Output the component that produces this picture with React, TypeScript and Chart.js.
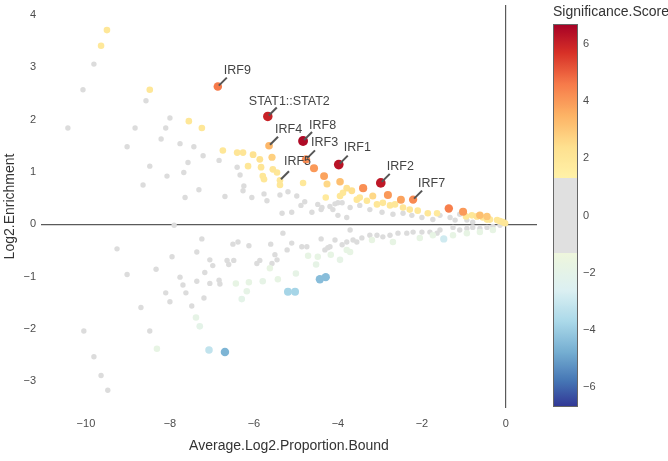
import React, { useEffect, useRef } from "react";
import { Chart, registerables } from "chart.js";
Chart.register(...registerables);

// ---- axes / ticks ----
const xTickValues = [-10, -8, -6, -4, -2, 0];
const yTickValues = [-3, -2, -1, 0, 1, 2, 3, 4];
const colorbarTickValues = [6, 4, 2, 0, -2, -4, -6];
const xLimits = [-11.07, 0.74];
const yLimits = [-3.51, 4.19];
const scoreLimit = 6.7;
const neutralBand = 1.3;

// ---- labelled motifs ----
const motifNames = ["IRF9", "STAT1::STAT2", "IRF4", "IRF8", "IRF3", "IRF5", "IRF1", "IRF2", "IRF7"];
const motifX = [-6.86, -5.67, -5.64, -4.83, -4.76, -5.38, -3.98, -2.98, -2.21];
const motifY = [2.63, 2.06, 1.5, 1.59, 1.24, 0.84, 1.14, 0.79, 0.47];
const motifScore = [4.6, 6.0, 3.4, 6.5, 4.3, 2.0, 6.3, 6.2, 4.3];

// ---- non-significant motifs [x, y] ----
const neutralPoints: number[][] = [
  [-9.81, 3.06], [-10.07, 2.57], [-8.57, 2.36], [-8.0, 2.03], [-10.43, 1.84], [-8.83, 1.84], [-8.1, 1.84],
  [-8.21, 1.63], [-9.02, 1.48], [-7.76, 1.54], [-7.43, 1.48], [-7.21, 1.31], [-7.57, 1.18], [-6.83, 1.22],
  [-8.48, 1.11], [-7.67, 0.99], [-8.07, 0.92], [-6.4, 1.09], [-6.33, 0.94], [-8.64, 0.75], [-6.24, 0.73],
  [-6.26, 0.64], [-7.31, 0.66], [-7.64, 0.51], [-6.69, 0.53], [-6.05, 0.51], [-5.76, 0.58], [-5.69, 0.45],
  [-5.38, 0.56], [-5.19, 0.62], [-4.98, 0.54], [-4.79, 0.43], [-4.88, 0.36], [-4.48, 0.38], [-4.4, 0.28],
  [-4.62, 0.23], [-5.33, 0.21], [-5.1, 0.23], [-4.19, 0.34], [-4.07, 0.39], [-4.0, 0.41], [-4.12, 0.28],
  [-4.0, 0.17], [-3.79, 0.13], [-4.38, 0.32], [-3.9, 0.41], [-3.71, 0.32], [-3.48, 0.36], [-3.24, 0.28],
  [-2.95, 0.23], [-2.69, 0.19], [-2.45, 0.21], [-2.24, 0.17], [-2.0, 0.13], [-1.74, 0.09], [-1.57, 0.17],
  [-1.33, 0.13], [-1.21, 0.08], [-1.1, 0.19], [-0.93, 0.08], [-0.79, 0.04], [-7.9, -0.02],
  [-9.26, -0.47], [-9.02, -0.96], [-7.24, -0.28], [-7.95, -0.62], [-7.36, -0.53], [-8.33, -0.86],
  [-7.76, -1.01], [-7.69, -1.16], [-7.36, -1.09], [-7.17, -0.92], [-7.05, -0.68], [-6.98, -0.79],
  [-6.64, -0.69], [-6.6, -0.77], [-6.48, -0.69], [-6.5, -0.38], [-6.38, -0.34], [-6.12, -0.41],
  [-5.6, -0.38], [-5.31, -0.17], [-5.1, -0.36], [-5.21, -0.49], [-5.5, -0.58], [-5.45, -0.68],
  [-5.57, -0.75], [-5.93, -0.75], [-5.86, -0.69], [-7.05, -1.13], [-6.83, -1.07], [-6.81, -1.14],
  [-8.1, -1.31], [-8.0, -1.48], [-7.62, -1.31], [-7.19, -1.41], [-7.48, -1.56], [-8.69, -1.59],
  [-10.05, -2.04], [-8.48, -2.04], [-9.81, -2.53], [-9.64, -2.89], [-9.48, -3.17], [-4.86, -0.43],
  [-4.74, -0.43], [-4.4, -0.28], [-4.31, -0.49], [-4.24, -0.45], [-4.07, -0.3], [-3.9, -0.39],
  [-3.79, -0.34], [-4.19, -0.43], [-3.71, -0.11], [-3.64, -0.3], [-3.55, -0.34], [-3.43, -0.26],
  [-3.24, -0.21], [-3.07, -0.21], [-2.93, -0.24], [-2.76, -0.21], [-2.57, -0.17], [-2.36, -0.17],
  [-2.21, -0.15], [-2.0, -0.15], [-1.81, -0.15], [-1.64, -0.17], [-1.57, -0.11], [-1.26, -0.06],
  [-1.1, -0.11], [-0.93, -0.08], [-0.79, -0.06], [-0.62, -0.08], [-0.45, -0.06], [-0.31, -0.04], [-0.14, -0.02],
];

// ---- enriched motifs [x, y, score] ----
const enrichedPoints: number[][] = [
  [-9.5, 3.71, 2.0], [-9.64, 3.41, 1.9], [-8.48, 2.57, 2.0], [-7.55, 1.97, 2.0], [-7.24, 1.84, 2.0],
  [-6.74, 1.41, 2.0], [-6.4, 1.37, 2.1], [-6.26, 1.37, 2.1], [-6.02, 1.33, 2.3], [-5.86, 1.24, 2.3],
  [-5.57, 1.28, 2.8], [-6.14, 1.11, 2.0], [-5.83, 1.09, 2.1], [-5.55, 1.05, 2.1], [-5.45, 0.99, 2.0],
  [-5.79, 0.92, 2.0], [-5.76, 0.86, 2.0], [-5.38, 0.75, 2.0], [-4.83, 0.79, 1.9], [-4.26, 0.77, 2.6],
  [-4.29, 0.51, 1.8], [-3.95, 0.81, 3.2], [-3.79, 0.69, 2.3], [-3.88, 0.6, 2.0], [-3.95, 0.54, 2.0],
  [-3.67, 0.64, 2.4], [-3.55, 0.47, 2.0], [-3.48, 0.51, 2.0], [-3.31, 0.45, 2.0], [-3.17, 0.54, 2.6],
  [-3.07, 0.38, 2.0], [-2.93, 0.41, 2.0], [-2.76, 0.36, 2.0], [-2.64, 0.38, 2.0], [-2.45, 0.32, 2.0],
  [-2.29, 0.28, 2.0], [-2.1, 0.26, 2.0], [-1.86, 0.21, 2.0], [-1.64, 0.21, 1.8], [-0.95, 0.15, 2.0],
  [-0.81, 0.17, 2.0], [-0.69, 0.15, 2.2], [-0.55, 0.13, 2.0], [-0.45, 0.09, 2.0], [-0.38, 0.09, 2.0],
  [-0.21, 0.08, 2.0], [-0.14, 0.06, 2.0], [-0.07, 0.04, 2.0], [-0.02, 0.02, 2.0],
  [-4.57, 1.07, 4.0], [-4.33, 0.92, 3.8], [-3.4, 0.69, 4.2], [-2.81, 0.56, 4.0], [-2.5, 0.47, 3.8],
  [-1.36, 0.3, 4.5], [-1.02, 0.24, 4.0], [-0.62, 0.17, 3.2], [-0.45, 0.15, 3.0],
];

// ---- depleted motifs [x, y, score] ----
const depletedPoints: number[][] = [
  [-6.43, -1.13, -1.8], [-6.12, -1.11, -1.8], [-5.79, -1.09, -1.9], [-5.43, -1.05, -1.8], [-5.0, -0.94, -1.9],
  [-5.62, -0.84, -1.7], [-6.17, -1.28, -1.9], [-6.29, -1.43, -2.0], [-7.38, -1.78, -1.9], [-7.29, -1.95, -2.0],
  [-8.31, -2.38, -1.8], [-4.71, -0.6, -1.8], [-4.48, -0.62, -1.8], [-4.52, -0.77, -1.9], [-4.17, -0.58, -1.8],
  [-3.95, -0.68, -1.9], [-3.79, -0.49, -1.8], [-3.71, -0.53, -1.8], [-3.19, -0.3, -1.7], [-2.69, -0.34, -1.8],
  [-2.05, -0.26, -1.8], [-1.74, -0.21, -1.8], [-1.26, -0.21, -1.8], [-0.93, -0.17, -1.8], [-0.62, -0.15, -1.8],
  [-0.31, -0.11, -1.8],
  [-7.07, -2.4, -3.2], [-6.69, -2.44, -4.6], [-5.19, -1.29, -3.8], [-5.02, -1.29, -3.8],
  [-4.43, -1.05, -4.4], [-4.29, -1.01, -4.4], [-1.48, -0.28, -2.9],
];

const FONT = '"Liberation Sans", Arial, Helvetica, sans-serif';
const NEUTRAL_POINT = "#dcdcdc";
const NEUTRAL_BAR = "#e0e0e0";

const posStops: [number, string][] = [
  [1.3, "#fff2a8"], [2.4, "#fee08f"], [3.5, "#fdb365"], [4.6, "#f67a4a"], [5.7, "#d73027"], [6.7, "#a50026"],
];
const negStops: [number, string][] = [
  [1.3, "#eef6dc"], [2.6, "#dcf0f2"], [3.7, "#abd9e9"], [4.8, "#74add1"], [5.8, "#4575b4"], [6.7, "#313695"],
];

function hexRgb(h: string) {
  const n = parseInt(h.slice(1), 16);
  return [(n >> 16) & 255, (n >> 8) & 255, n & 255];
}
function rampColor(stops: [number, string][], a: number) {
  if (a <= stops[0][0]) return stops[0][1];
  for (let i = 1; i < stops.length; i++) {
    if (a <= stops[i][0]) {
      const t = (a - stops[i - 1][0]) / (stops[i][0] - stops[i - 1][0]);
      const c0 = hexRgb(stops[i - 1][1]);
      const c1 = hexRgb(stops[i][1]);
      const c = c0.map((v, k) => Math.round(v + (c1[k] - v) * t));
      return `rgb(${c[0]},${c[1]},${c[2]})`;
    }
  }
  return stops[stops.length - 1][1];
}
function scoreColor(s: number, neutral = NEUTRAL_POINT) {
  if (Math.abs(s) < neutralBand) return neutral;
  return rampColor(s > 0 ? posStops : negStops, Math.abs(s));
}
function scoreRadius(s: number) {
  return 2.6 + 0.36 * Math.abs(s);
}
const fmt = (v: number) => (v < 0 ? "\u2212" + Math.abs(v) : String(v));

const labelOffsets: Record<string, number[]> = {
  IRF9: [6, -16], "STAT1::STAT2": [-19, -15], IRF4: [6, -16], IRF8: [6, -15], IRF3: [5, -17],
  IRF5: [4, -19], IRF1: [5, -17], IRF2: [6, -16], IRF7: [5, -16],
};

const labelPlugin = {
  id: "motifLabels",
  afterDatasetsDraw(chart: any) {
    const { ctx, scales } = chart;
    ctx.save();
    motifNames.forEach((name, i) => {
      const px = scales.x.getPixelForValue(motifX[i]);
      const py = scales.y.getPixelForValue(motifY[i]);
      const off = labelOffsets[name] || [5, -16];
      ctx.strokeStyle = "#555";
      ctx.lineWidth = 2;
      ctx.beginPath();
      ctx.moveTo(px + 1, py - 1);
      ctx.lineTo(px + 9, py - 9);
      ctx.stroke();
      ctx.fillStyle = "#444";
      ctx.font = `12.5px ${FONT}`;
      ctx.textAlign = "left";
      ctx.textBaseline = "middle";
      ctx.fillText(name, px + off[0], py + off[1]);
    });
    ctx.restore();
  },
};

const colorbarPlugin = {
  id: "colorbar",
  afterDraw(chart: any) {
    const { ctx, chartArea } = chart;
    const left = chartArea.right + 16;
    const top = 24;
    const w = 25;
    const h = chartArea.bottom - 1 - top;
    const toPx = (v: number) => top + ((scoreLimit - v) / (2 * scoreLimit)) * h;
    ctx.save();
    const g = ctx.createLinearGradient(0, top, 0, top + h);
    const steps = 134;
    for (let k = 0; k <= steps; k++) {
      const v = scoreLimit - (2 * scoreLimit * k) / steps;
      g.addColorStop(k / steps, scoreColor(v, NEUTRAL_BAR));
    }
    const tHi = (scoreLimit - neutralBand) / (2 * scoreLimit);
    const tLo = (scoreLimit + neutralBand) / (2 * scoreLimit);
    g.addColorStop(tHi - 0.0001, scoreColor(neutralBand + 0.001));
    g.addColorStop(tHi, NEUTRAL_BAR);
    g.addColorStop(tLo, NEUTRAL_BAR);
    g.addColorStop(tLo + 0.0001, scoreColor(-neutralBand - 0.001));
    ctx.fillStyle = g;
    ctx.fillRect(left, top, w, h);
    ctx.strokeStyle = "#666";
    ctx.lineWidth = 1;
    ctx.strokeRect(left + 0.5, top + 0.5, w - 1, h - 1);
    ctx.fillStyle = "#4d4d4d";
    ctx.font = `11px ${FONT}`;
    ctx.textAlign = "left";
    ctx.textBaseline = "middle";
    colorbarTickValues.forEach((v) => ctx.fillText(fmt(v), left + w + 5, toPx(v)));
    ctx.fillStyle = "#333";
    ctx.font = `14px ${FONT}`;
    ctx.fillText("Significance.Score", left, 12);
    ctx.restore();
  },
};

export default function App() {
  const ref = useRef<HTMLCanvasElement | null>(null);
  useEffect(() => {
    if (!ref.current) return;
    const enrichedSorted = [...enrichedPoints].sort((a, b) => a[2] - b[2]);
    const depletedSorted = [...depletedPoints].sort((a, b) => b[2] - a[2]);
    const mk = (pts: number[][], scores: number[], neutral = false) => ({
      data: pts.map((p) => ({ x: p[0], y: p[1] })),
      backgroundColor: scores.map((s) => (neutral ? NEUTRAL_POINT : scoreColor(s))),
      pointRadius: scores.map((s) => (neutral ? 2.7 : scoreRadius(s))),
      pointBorderWidth: 0,
      borderWidth: 0,
      pointHoverRadius: 0,
    });
    const motifPts = motifNames.map((_, i) => [motifX[i], motifY[i]]);
    const chart = new Chart(ref.current, {
      type: "scatter",
      data: {
        datasets: [
          { label: "motifs", ...mk(motifPts, motifScore) },
          { label: "enriched", ...mk(enrichedSorted, enrichedSorted.map((p) => p[2])) },
          { label: "depleted", ...mk(depletedSorted, depletedSorted.map((p) => p[2])) },
          { label: "neutral", ...mk(neutralPoints, neutralPoints.map(() => 0), true) },
        ] as any,
      },
      options: {
        animation: false,
        responsive: false,
        maintainAspectRatio: false,
        devicePixelRatio: 1,
        layout: { padding: { left: 0, right: 131, top: 0, bottom: 0 } },
        plugins: { legend: { display: false }, tooltip: { enabled: false } },
        events: [],
        scales: {
          x: {
            type: "linear",
            min: xLimits[0],
            max: xLimits[1],
            afterBuildTicks: (s: any) => {
              s.ticks = xTickValues.map((v) => ({ value: v }));
            },
            afterFit: (s: any) => {
              s.height = 53;
              s.paddingLeft = 0;
              s.paddingRight = 0;
            },
            grid: {
              drawTicks: false,
              lineWidth: 1.2,
              color: (c: any) => (c.tick && c.tick.value === 0 ? "#5a5a5a" : "rgba(0,0,0,0)"),
            },
            border: { display: false },
            ticks: {
              padding: 9,
              autoSkip: false,
              maxRotation: 0,
              color: "#4d4d4d",
              font: { family: FONT, size: 11 },
              callback: (v: any) => fmt(Number(v)),
            },
            title: {
              display: true,
              text: "Average.Log2.Proportion.Bound",
              color: "#333",
              font: { family: FONT, size: 14 },
              padding: { top: 0, bottom: 6 },
            },
          },
          y: {
            type: "linear",
            min: yLimits[0],
            max: yLimits[1],
            afterBuildTicks: (s: any) => {
              s.ticks = yTickValues.map((v) => ({ value: v }));
            },
            afterFit: (s: any) => {
              s.width = 41;
              s.paddingTop = 0;
              s.paddingBottom = 0;
            },
            grid: {
              drawTicks: false,
              lineWidth: 1.2,
              color: (c: any) => (c.tick && c.tick.value === 0 ? "#5a5a5a" : "rgba(0,0,0,0)"),
            },
            border: { display: false },
            ticks: {
              padding: 5,
              autoSkip: false,
              color: "#4d4d4d",
              font: { family: FONT, size: 11 },
              callback: (v: any) => fmt(Number(v)),
            },
            title: {
              display: true,
              text: "Log2.Enrichment",
              color: "#333",
              font: { family: FONT, size: 14 },
              padding: { top: 2, bottom: 0 },
            },
          },
        },
      } as any,
      plugins: [labelPlugin, colorbarPlugin],
    });
    return () => chart.destroy();
  }, []);
  return (
    <div style={{ position: "absolute", left: 0, top: 0, width: 668, height: 461, background: "#fff" }}>
      <canvas ref={ref} width={668} height={461} style={{ display: "block" }} />
    </div>
  );
}
